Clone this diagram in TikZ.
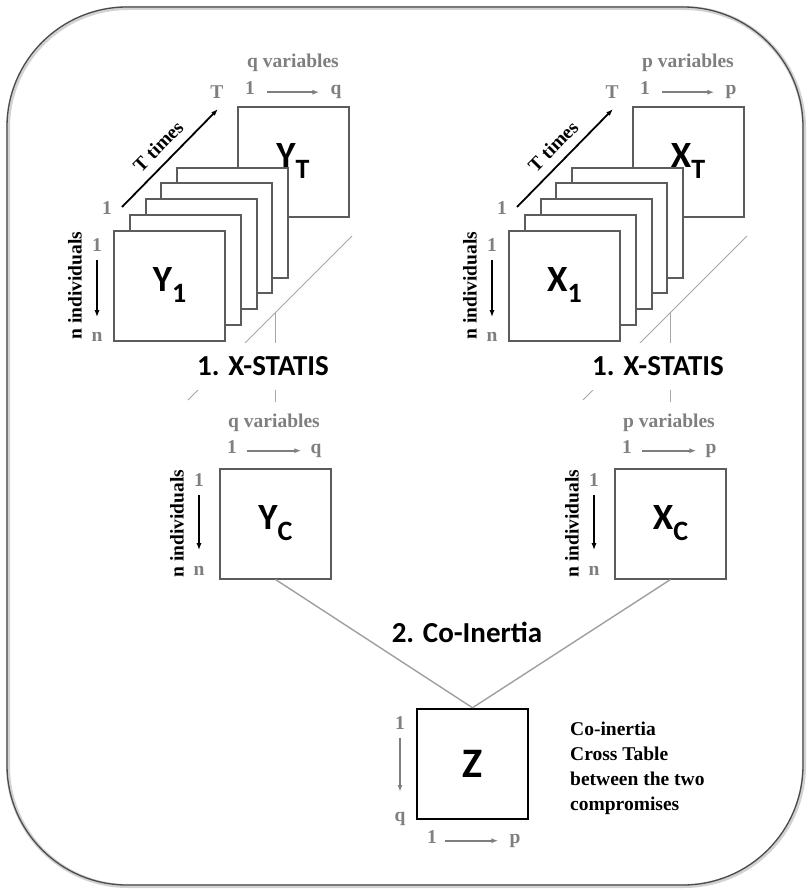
\documentclass[tikz,border=0pt]{standalone}
\usepackage{fontspec}
\setmainfont{Liberation Serif}
\newfontfamily\carlito{Carlito}
\usetikzlibrary{arrows.meta}

\definecolor{boxgray}{HTML}{5C5C5C}
\definecolor{labgray}{HTML}{7F7F7F}
\definecolor{linegray}{HTML}{A6A6A6}

\newcommand{\matname}[2]{#1\raisebox{-11pt}{\fontsize{28}{28}\selectfont#2}}

\tikzset{
  mat/.style={draw=boxgray,line width=2pt,fill=white,minimum width=111pt,minimum height=110pt,inner sep=0pt,font=\carlito\bfseries\fontsize{37}{37}\selectfont},
  lab/.style={inner sep=0pt,font=\bfseries\fontsize{19.5}{25}\selectfont},
  glab/.style={lab,text=labgray},
  garrow/.style={draw=labgray,line width=1.6pt,-{Latex[length=7pt,width=5pt]}},
  barrow/.style={draw=black,line width=1.8pt,-{Latex[length=7pt,width=5pt]}},
  foldline/.style={draw=linegray,line width=1pt},
  title/.style={inner sep=0pt,font=\carlito\bfseries\fontsize{29}{29}\selectfont},
  link/.style={draw=gray!75,line width=1.4pt}
}

\begin{document}
\begin{tikzpicture}[x=1pt,y=-1pt]
\useasboundingbox (0,0) rectangle (808,891);
% outer frame
\draw[gray!35,line width=4pt,rounded corners=120pt] (8,8) rectangle (804,886);
\draw[black!70,line width=1.3pt,rounded corners=120pt] (7,7) rectangle (803,885);

\foreach \m/\v/\dx in {Y/q/0,X/p/395}{
\begin{scope}[shift={(\dx,0)}]
% step 1: T tables -> compromise
\draw[foldline] (352,236) -- (188,400);
\draw[foldline] (275,313) -- (275,402);
\node[title,fill=white,minimum height=47pt,inner xsep=3pt] (\m stat) at (263,366) {1. X-STATIS};

\node[mat] (\m T) at (293,161.5) {\matname{\m}{T}};
\foreach \i in {4,3,2,1}
  \node[mat] (\m s\i) at (169.5+15.75*\i,285.5-15.75*\i) {};
\node[mat] (\m 1) at (169.5,285.5) {\matname{\m}{1}};

% variables
\node[glab] (\m var) at (293,63) {\v\ variables};
\node[glab,anchor=base] (\m v1) at (250,94.5) {1};
\node[glab,anchor=base] (\m vn) at (336,94.5) {\v};
\draw[garrow,shorten <=12pt,shorten >=11pt] (\m v1.mid east) -- (\m vn.mid west);

% times
\node[glab] (\m t1) at (107,208) {1};
\node[glab] (\m tT) at (217,92) {T};
\coordinate (\m ta) at (122,207);
\coordinate (\m tb) at (218,109);
\draw[barrow] (\m ta) -- (\m tb) node[lab,midway,sloped,above=9pt] {T times};

% individuals
\node[lab,rotate=90] (\m n) at (75,285.5) {n individuals};
\node[glab] (\m n1) at (97,245) {1};
\node[glab] (\m nn) at (97,337) {n};
\draw[barrow,shorten <=8pt,shorten >=15pt] (\m n1) -- (\m nn);

% compromise
\node[mat] (\m C) at (275.5,523.5) {\matname{\m}{C}};
\node[glab] (\m cvar) at (274,423) {\v\ variables};
\node[glab,anchor=base] (\m cv1) at (232,453) {1};
\node[glab,anchor=base] (\m cvn) at (316,453) {\v};
\draw[garrow,shorten <=10pt,shorten >=9pt] (\m cv1.mid east) -- (\m cvn.mid west);
\node[lab,rotate=90] (\m cn) at (177,523.5) {n individuals};
\node[glab] (\m cn1) at (199,480.5) {1};
\node[glab] (\m cnn) at (199,571) {n};
\draw[barrow,shorten <=8pt,shorten >=16pt] (\m cn1) -- (\m cnn);
\end{scope}
}

% step 2: co-inertia
\node[mat,draw=black,line width=2.5pt,font=\carlito\bfseries\fontsize{42}{42}\selectfont] (Z) at (472.5,764) {Z};
\draw[link] (YC.south) -- (Z.north);
\draw[link] (XC.south) -- (Z.north);
\node[title] (coin) at (467,632) {2. Co-Inertia};

\node[glab] (z1) at (400,723) {1};
\node[glab,anchor=north] (zq) at (400,812) {q};
\draw[garrow,shorten <=8pt,shorten >=20pt] (z1) -- (zq);
\node[glab,anchor=base] (zb1) at (432,843) {1};
\node[glab,anchor=base] (zbp) at (515,843) {p};
\draw[garrow,shorten <=8pt,shorten >=11pt] (zb1.mid east) -- (zbp.mid west);

\node[lab,align=left,anchor=north west] (note) at (570,722) {Co-inertia\\Cross Table\\between the two\\compromises};
\end{tikzpicture}
\end{document}
